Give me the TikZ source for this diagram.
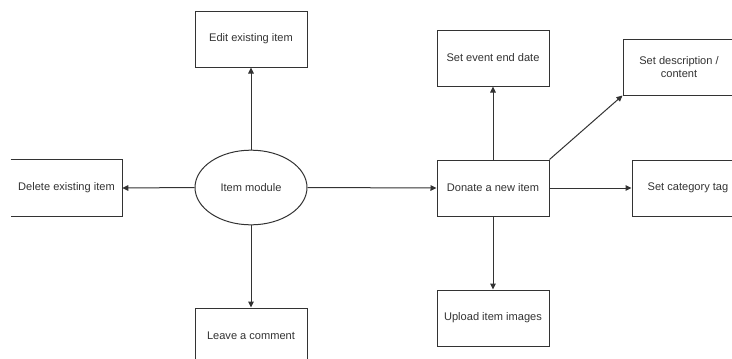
\documentclass[tikz,border=0pt]{standalone}
\usepackage{fontspec}
\setmainfont{Liberation Sans}
\usetikzlibrary{shapes.geometric,arrows.meta}
\definecolor{ink}{HTML}{333333}
\begin{document}
\begin{tikzpicture}[x=0.75pt,y=-0.75pt,
  every node/.style={font=\fontsize{8.3pt}{10pt}\selectfont, text=ink},
  box/.style={draw=ink, line width=0.75pt, rectangle, minimum width=84pt, minimum height=42pt, inner sep=0pt, align=center},
  openbox/.style={rectangle, minimum width=83.25pt, minimum height=42pt, inner sep=0pt},
  hub/.style={draw=ink, line width=0.75pt, ellipse, minimum width=84pt, minimum height=56pt, inner sep=0pt},
  link/.style={draw=ink, line width=0.75pt, -{Triangle[length=4.5pt,width=4.2pt]}}]
\useasboundingbox (0,0) rectangle (732,358);
\clip (0,0) rectangle (732,358);
\fill[white] (0,0) rectangle (732,358);

% central module
\node[hub] (item) at (251,187.5) {Item module};

% actions on existing items
\node[box] (edit) at (251,39) {Edit existing item};
\node[openbox] (del) at (66.5,188) {Delete existing item};
\draw[ink, line width=0.75pt] (del.north west) -- (del.north east) -- (del.south east) -- (del.south west);
\node[box] (leave) at (251,336) {Leave a comment};

% donation branch
\node[box] (donate) at (493,188) {Donate a new item};
\node[box] (event) at (493,58) {Set event end date};
\node[box] (desc) at (679,67) {Set description /\\content};
\node[box] (cat) at (688,188) {Set category tag};
\node[box] (upload) at (493,318) {Upload item images};

% connectors
\draw[link] (item.north) -- (edit.south);
\draw[link] (item.west) -- (del.east);
\draw[link] (item.south) -- (leave.north);
\draw[link] (item.east) -- (donate.west);
\draw[link] (donate.north) -- (event.south);
\draw[link] (donate.north east) -- (desc.south west);
\draw[link] (donate.east) -- (cat.west);
\draw[link] (donate.south) -- (upload.north);
\end{tikzpicture}
\end{document}
